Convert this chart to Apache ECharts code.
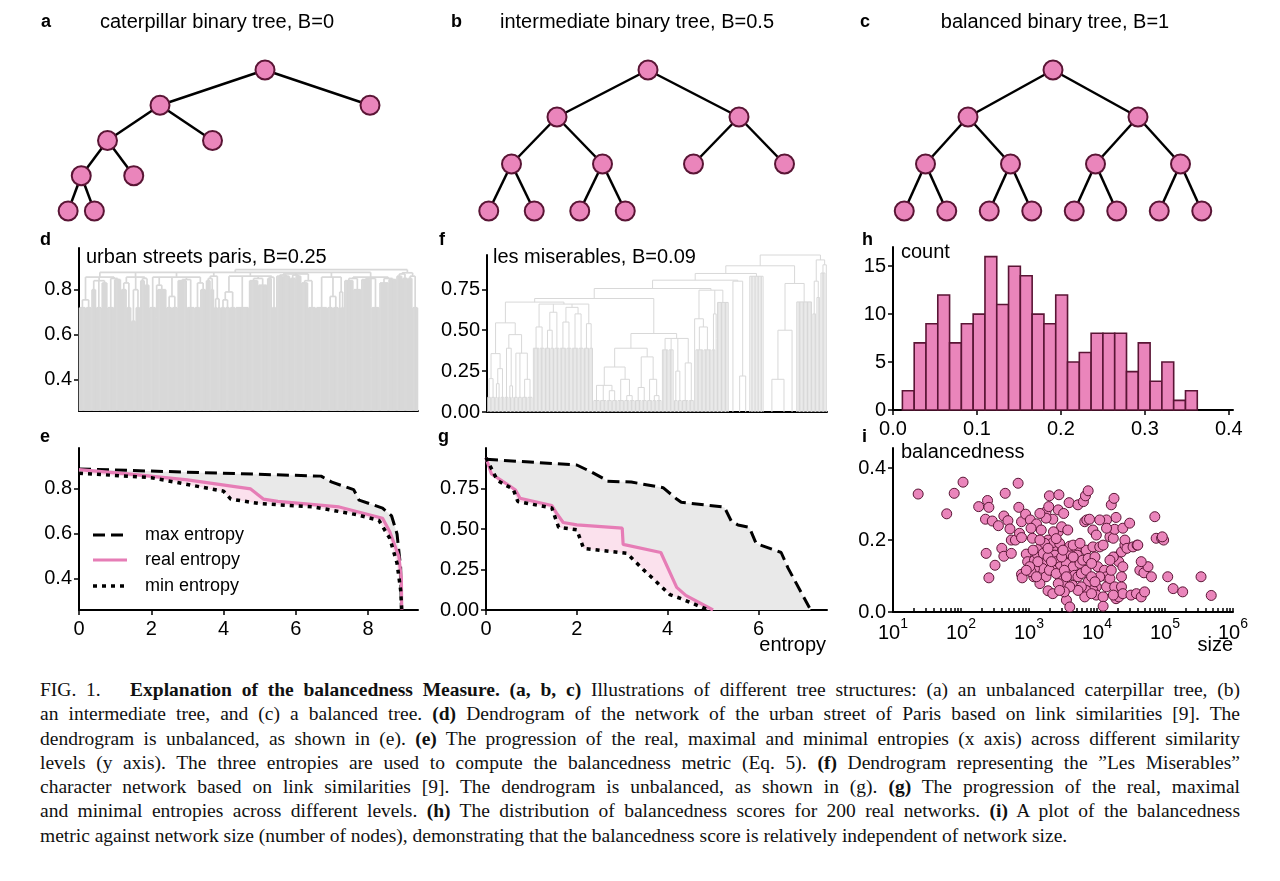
<!DOCTYPE html>
<html><head><meta charset="utf-8">
<script src="https://cdn.jsdelivr.net/npm/echarts@6/dist/echarts.min.js"></script>
<style>
html,body{margin:0;padding:0;background:#fff;}
#chart{position:absolute;left:0;top:0;width:1280px;height:670px;}
#cap{position:absolute;left:40px;top:678px;width:1200px;font-family:'Liberation Serif','Times New Roman',serif;font-size:19.5px;line-height:24.3px;color:#111;}
#cap div{text-align:justify;text-align-last:justify;white-space:nowrap;}
#cap div.last{text-align-last:left;}
</style></head><body>
<div id="chart"></div>
<div id="cap">
<div>FIG. 1.&nbsp;&nbsp; <b>Explanation of the balancedness Measure.</b> <b>(a, b, c)</b> Illustrations of different tree structures: (a) an unbalanced caterpillar tree, (b)</div>
<div>an intermediate tree, and (c) a balanced tree. <b>(d)</b> Dendrogram of the network of the urban street of Paris based on link similarities [9]. The</div>
<div>dendrogram is unbalanced, as shown in (e). <b>(e)</b> The progression of the real, maximal and minimal entropies (x axis) across different similarity</div>
<div>levels (y axis). The three entropies are used to compute the balancedness metric (Eq. 5). <b>(f)</b> Dendrogram representing the ”Les Miserables”</div>
<div>character network based on link similarities [9]. The dendrogram is unbalanced, as shown in (g). <b>(g)</b> The progression of the real, maximal</div>
<div>and minimal entropies across different levels. <b>(h)</b> The distribution of balancedness scores for 200 real networks. <b>(i)</b> A plot of the balancedness</div>
<div class="last">metric against network size (number of nodes), demonstrating that the balancedness score is relatively independent of network size.</div>
</div>
<script>
// ---------------- DATA ----------------
// binary trees (node = list of children, leaf = [])
const treeA = [[[[[],[]],[]],[]],[]];
const treeB = [[[[],[]],[[],[]]],[[],[]]];
const treeC = [[[[],[]],[[],[]]],[[[],[]],[[],[]]]];
const treeTitles = ['caterpillar binary tree, B=0', 'intermediate binary tree, B=0.5', 'balanced binary tree, B=1'];

// dendrogram d (node = [height, ...children]; block = [height, nLeaves, width?])
const parisA = [0.856,[0.755,[0.72,6],[0.72,5]],[0.84,[0.8,4],[0.72,5],[0.83,5]],[0.85,[0.72,6],[0.845,6]]];
const parisB = [0.856,[0.83,[0.8,5],[0.72,4]],[0.8,[0.66,4],[0.72,4]],[0.85,[0.84,4],[0.82,4]]];
const parisC = [0.856,[0.72,6],[0.82,[0.675,1],[0.8,8]],[0.77,[0.72,5],[0.72,5]],[0.845,[0.84,8],[0.72,7]],[0.83,[0.72,5],[0.8,5]]];
const parisD = [0.86,[0.85,[0.84,4],[0.8,3]],[0.76,[0.72,3],[0.72,3]]];
const parisE = [0.86,[0.79,[0.755,[0.72,4],[0.72,4]],[0.72,5]],[0.72,12],[0.85,[0.84,8],[0.82,8]],[0.855,[0.85,4],[0.72,4]]];
const parisF = [0.87,[0.865,[0.86,6],[0.86,6]],[0.865,[0.85,5],[0.86,5]],[0.84,[0.83,6],[0.72,7]]];
const parisG = [0.856,[0.72,10],[0.77,[0.72,5],[0.72,5]],[0.79,[0.72,2],[0.72,3]]];
const parisH = [0.856,[0.85,[0.84,8],[0.8,7]],[0.85,[0.845,8],[0.5,1],[0.72,7]],[0.85,[0.83,8],[0.845,7]]];
const parisI = [0.875,[0.87,[0.86,5],[0.85,5]],[0.86,[0.85,4],[0.72,5]]];
const parisDendrogram = [0.889,[0.877,parisA,parisB,parisC,parisD,parisE,parisF,parisG,parisH],parisI];

// dendrogram f
const fLeftA = [0.545,
  [0.357,[0.204,[0.09,3],[0.09,3]],[0.265,[0.173,[0.09,2],[0.09,2]],[0.09,3]]],
  [0.473,[0.39,[0.09,3],[0.16,[0.09,2],[0.09,2]]],[0.36,[0.09,3],[0.09,3],[0.2,[0.09,4],[0.09,4]]]]];
const fLeftB = [0.66,
  [0.52,[0.39,5],[0.39,4]],
  [0.61,[0.5,[0.39,4],[0.39,3]],[0.39,4]],
  [0.64,[0.55,[0.39,5],[0.39,4]],[0.6,[0.39,5],[0.39,4]]],
  [0.54,[0.39,4],[0.39,3]]];
const fMid = [0.48,
  [0.39,
    [0.275,
      [0.163,[0.07,5],[0.07,5],[0.13,[0.07,4],[0.07,4]]],
      [0.2,[0.07,5],[0.1,[0.07,4],[0.07,4]]]],
    [0.337,[0.15,[0.07,5],[0.07,4]],[0.2,[0.07,4],[0.1,[0.07,3],[0.07,4]]]]],
  [0.45,[0.38,5],[0.38,4],[0.25,[0.07,3],[0.07,3]],[0.3,[0.07,5],[0.07,4]]]];
const fRight1 = [0.745,[0.57,[0,1],[0.52,[0.38,6],[0.38,6]]],[0.6,[0.38,3],[0.45,1]],[0.67,9]];
const fRight2 = [0.8,[0,1,6],[0.22,[0,1,4],[0,1,5]]];
const fRight3 = [0.83,10,11];
const fRight4 = [0.786,[0.5,[0.2,[0,1,12],[0,1,6]],[0,1,6]],[0.673,12]];
const fRight5 = [0.93,[0.8,[0.6,3],[0.7,3]],[0.9,[0.85,4],[0,1]]];
const lesMiserables = [0.96,[0.894,[0.847,[0.806,[0.755,[0.694,[0.672,fLeftA,fLeftB],fMid],fRight1],fRight2],fRight3],fRight4],fRight5];

// panel e: [entropy, level]
const eMax  = [[0,.889],[6.7,.857],[7.0,.83],[7.6,.797],[7.75,.75],[8.4,.715],[8.65,.68],[8.8,.6],[8.9,.45],[8.92,.262]];
const eReal = [[0,.886],[1.5,.865],[3,.84],[4.75,.80],[5.1,.755],[5.5,.745],[7.2,.72],[8.4,.67],[8.6,.61],[8.85,.5],[8.92,.4],[8.93,.262]];
const eMin  = [[0,.87],[2,.85],[3,.82],[4,.79],[4.2,.755],[5,.735],[6.5,.72],[7.7,.685],[8.3,.66],[8.6,.58],[8.8,.47],[8.9,.35],[8.93,.262]];
// panel g
const gMax  = [[0,.93],[2,.895],[2.3,.855],[2.6,.81],[2.65,.795],[3.2,.79],[3.9,.755],[4.2,.685],[4.3,.665],[5.25,.635],[5.4,.55],[5.55,.525],[5.8,.51],[5.95,.41],[6.5,.355],[6.65,.26],[7.15,0]];
const gReal = [[0,.94],[0.12,.84],[0.5,.77],[0.65,.74],[0.75,.69],[1.45,.645],[1.55,.6],[1.7,.54],[2.0,.525],[3.0,.505],[3.02,.405],[3.85,.355],[4.2,.14],[4.4,.09],[5.0,0]];
const gMin  = [[0,.94],[0.25,.8],[0.6,.745],[0.7,.67],[1.45,.63],[1.55,.55],[1.6,.51],[2.0,.495],[2.15,.38],[3.1,.35],[3.5,.24],[4.05,.095],[4.3,.07],[4.9,0]];
const legendNames = ['max entropy', 'real entropy', 'min entropy'];

// panel h histogram
const hBinStart = 0.0112, hBinWidth = 0.01405;
const hCounts = [2,7,9,12,7,9,10,16,11,15,14,10,9,12,5,6,8,8,8,4,7,3,5,1,2];

// panel i scatter: log10(size), balancedness
const iLogSize = [1.37,1.79,1.90,2.03,2.26,2.39,2.41,2.36,2.46,2.55, 2.37,2.50,2.41,2.65,2.63,2.69,2.72,2.60,2.63,2.74,
 2.74,2.80,2.84,2.85,2.89,2.86,2.89,2.95,2.96,2.98, 2.89,2.90,3.02,3.05,3.07,3.11,3.18,3.25,3.28,3.29,
 3.30,3.35,3.43,3.44,3.51,3.08,3.12,3.16,3.21,3.23, 3.20,3.25,3.28,3.35,3.16,3.08,3.03,3.11,3.35,3.35,
 3.38,3.40,3.45,3.46,3.49,3.50,3.35,3.43,3.60,3.62, 3.55,3.60,3.65,3.60,3.70,3.71,3.64,3.67,3.75,3.79,
 3.84,3.87,3.55,3.60,3.59,3.72,3.80,3.83,3.87,3.82, 3.85,3.89,3.94,3.97,4.01,4.04,4.09,4.11,4.14,4.04,
 3.99,3.87,3.94,3.99,4.09,4.14,4.19,4.21,4.19,4.24, 4.26,4.28,4.14,4.21,4.25,4.28,4.32,4.38,4.36,4.41,
 4.24,4.19,4.14,4.26,4.09,4.28,4.32,4.36,4.36,4.38, 4.24,4.41,4.38,4.44,4.48,4.53,4.59,4.50,4.58,4.65,
 4.70,4.63,4.69,4.75,4.65,4.80,4.60,4.85,4.87,4.95, 4.98,4.96,5.04,5.12,5.26,5.53,5.68,3.23,3.28,3.30,
 3.33,3.40,3.48,3.52,3.55,3.65,3.65,3.72,3.77,3.84, 3.92,3.92,3.97,3.84,3.82,3.77,3.92,3.72,3.60,3.52,
 3.45,3.16,3.13,3.06,3.01,2.96,3.43,3.48,3.57,3.25, 3.16,3.03,3.36,3.94,3.99,4.04,3.40,3.28,3.50,3.75];
const iBal = [.328,.273,.330,.361,.293,.310,.291,.258,.253,.240, .163,.130,.095,.330,.267,.254,.231,.177,.155,.163,
 .200,.200,.358,.291,.251,.219,.207,.272,.161,.140, .105,.095,.256,.205,.098,.245,.228,.279,.200,.293,
 .323,.258,.284,.326,.274,.144,.161,.177,.163,.135, .121,.098,.059,.051,.079,.121,.112,.098,.177,.193,
 .158,.140,.191,.126,.102,.079,.116,.079,.163,.140, .135,.107,.126,.183,.177,.158,.074,.102,.135,.144,
 .172,.149,.033,.014,.304,.298,.307,.323,.337,.251, .256,.258,.181,.153,.126,.181,.186,.116,.098,.098,
 .070,.084,.060,.047,.042,.070,.093,.116,.209,.205, .230,.263,.256,.298,.316,.153,.140,.126,.167,.186,
 .153,.144,.233,.070,.016,.037,.042,.070,.098,.051, .047,.200,.233,.177,.247,.181,.186,.047,.051,.042,
 .056,.116,.109,.126,.140,.098,.186,.265,.205,.205, .200,.209,.098,.065,.056,.098,.046,.191,.153,.116,
 .140,.107,.153,.116,.098,.153,.186,.098,.107,.116, .135,.098,.084,.060,.042,.070,.051,.060,.070,.056,
 .060,.200,.140,.172,.126,.116,.223,.237,.228,.261, .274,.233,.223,.228,.214,.256,.204,.177,.172,.191];

// tick labels
const dYTicks = [0.4, 0.6, 0.8];
const eXTicks = [0, 2, 4, 6, 8];
const fYTicks = [0, 0.25, 0.5, 0.75];
const gXTicks = [0, 2, 4, 6];
const hXTicks = [0, 0.1, 0.2, 0.3, 0.4];
const hYTicks = [0, 5, 10, 15];
const iXTicks = [10, 100, 1000, 10000, 100000, 1000000];
const iYTicks = [0, 0.2, 0.4];

// ---------------- STYLE / HELPERS ----------------
const FONT = '"Liberation Sans", Arial, sans-serif';
const PINK = '#ea85bb', MAROON = '#5a1535', GRAY = '#d8d8d8', LINEPINK = '#e67db6';

function layoutTree(tree) {
  const nodes = [], links = []; let maxD = 0;
  (function walk(node, x, depth, parent) {
    const idx = nodes.length; maxD = Math.max(maxD, depth);
    nodes.push({value: [x, depth]});
    if (parent >= 0) links.push({source: parent, target: idx});
    const off = Math.pow(0.5, depth + 1);
    node.forEach((c, i) => walk(c, x + (i === 0 ? -off : off), depth + 1, idx));
  })(tree, 0, 0, -1);
  return {nodes, links, maxD};
}
function dendro(root, base) {
  const segs = []; let cursor = 0;
  function walk(node) {
    if (typeof node[1] === 'number') {
      const h = node[0], n = node[1], w = node[2] || n;
      const x0 = cursor; cursor += w;
      const xs = [];
      for (let i = 0; i < n; i++) xs.push(x0 + (i + 0.5) * w / n);
      if (h > base) xs.forEach(x => segs.push([x, base, x, h]));
      if (n > 1) segs.push([xs[0], h, xs[n - 1], h]);
      return {x: (xs[0] + xs[n - 1]) / 2, h: Math.max(h, base)};
    }
    const h = node[0];
    const kids = node.slice(1).map(walk);
    kids.forEach(k => segs.push([k.x, k.h, k.x, h]));
    segs.push([kids[0].x, h, kids[kids.length - 1].x, h]);
    return {x: (kids[0].x + kids[kids.length - 1].x) / 2, h};
  }
  walk(root);
  return {segs, total: cursor};
}
const trees = [treeA, treeB, treeC].map(layoutTree);
const dRes = dendro(parisDendrogram, 0.262);
const fRes = dendro(lesMiserables, 0);

const axLine = {show: true, onZero: false, lineStyle: {color: '#000', width: 2}};
const noSplit = {show: false};
function ticks(vals, inside, len) { return {show: true, inside: !!inside, length: len || 5, customValues: vals, lineStyle: {color: '#000', width: 1.5}}; }
function labels(vals, fmt, margin) { return {show: true, customValues: vals, formatter: fmt, color: '#000', fontSize: 20, fontFamily: FONT, margin: margin}; }
const off = {show: false};

const grids = [
  {left: 55, top: 70, width: 420, height: 141},
  {left: 466, top: 70, width: 364, height: 141},
  {left: 883, top: 70, width: 340, height: 141},
  {left: 79, top: 248, width: 339, height: 163},
  {left: 79, top: 448, width: 339, height: 162},
  {left: 487, top: 255, width: 340, height: 157},
  {left: 486, top: 448, width: 341, height: 162},
  {left: 893, top: 247, width: 340, height: 163},
  {left: 893, top: 448, width: 340, height: 164}
];

const iMinor = [];
for (let k = 1; k < 6; k++) for (let m = 1; m < 10; m++) iMinor.push(m * Math.pow(10, k));
iMinor.push(1e6);
const iLabelStyle = labels(iXTicks, v => '{b|10}{s|' + Math.round(Math.log10(v)) + '}', 5);
iLabelStyle.rich = {
  b: {fontSize: 20, fontFamily: FONT, color: '#000', lineHeight: 26, verticalAlign: 'bottom'},
  s: {fontSize: 14, fontFamily: FONT, color: '#000', lineHeight: 14, verticalAlign: 'top'}
};

const xAxis = [
  {gridIndex: 0, type: 'value', min: -1, max: 1, show: false},
  {gridIndex: 1, type: 'value', min: -1, max: 1, show: false},
  {gridIndex: 2, type: 'value', min: -1, max: 1, show: false},
  {gridIndex: 3, type: 'value', min: 0, max: dRes.total, axisLine: axLine, axisTick: off, axisLabel: off, splitLine: noSplit},
  {gridIndex: 4, type: 'value', min: 0, max: 9.38, axisLine: axLine, axisTick: ticks(eXTicks), axisLabel: labels(eXTicks, v => String(v), 9), splitLine: noSplit},
  {gridIndex: 5, type: 'value', min: 0, max: fRes.total, axisLine: axLine, axisTick: off, axisLabel: off, splitLine: noSplit},
  {gridIndex: 6, type: 'value', min: 0, max: 7.51, axisLine: axLine, axisTick: ticks(gXTicks), axisLabel: labels(gXTicks, v => String(v), 9), splitLine: noSplit},
  {gridIndex: 7, type: 'value', min: 0, max: 0.405, axisLine: axLine, axisTick: ticks(hXTicks), axisLabel: labels(hXTicks, v => v.toFixed(1), 9), splitLine: noSplit},
  {gridIndex: 8, type: 'log', logBase: 10, min: 10, max: 1e6, axisLine: axLine, axisTick: ticks(iMinor, true, 4), axisLabel: iLabelStyle, splitLine: noSplit, minorTick: off}
];
const yAxis = [
  {gridIndex: 0, type: 'value', min: 0, max: trees[0].maxD, inverse: true, show: false},
  {gridIndex: 1, type: 'value', min: 0, max: trees[1].maxD, inverse: true, show: false},
  {gridIndex: 2, type: 'value', min: 0, max: trees[2].maxD, inverse: true, show: false},
  {gridIndex: 3, type: 'value', min: 0.262, max: 0.985, axisLine: axLine, axisTick: ticks(dYTicks), axisLabel: labels(dYTicks, v => v.toFixed(1), 7), splitLine: noSplit},
  {gridIndex: 4, type: 'value', min: 0.262, max: 0.982, axisLine: axLine, axisTick: ticks(dYTicks), axisLabel: labels(dYTicks, v => v.toFixed(1), 7), splitLine: noSplit},
  {gridIndex: 5, type: 'value', min: 0, max: 0.96, axisLine: axLine, axisTick: ticks(fYTicks), axisLabel: labels(fYTicks, v => v.toFixed(2), 7), splitLine: noSplit},
  {gridIndex: 6, type: 'value', min: 0, max: 1.0, axisLine: axLine, axisTick: ticks(fYTicks), axisLabel: labels(fYTicks, v => v.toFixed(2), 7), splitLine: noSplit},
  {gridIndex: 7, type: 'value', min: 0, max: 17, axisLine: axLine, axisTick: ticks(hYTicks), axisLabel: labels(hYTicks, v => String(v), 7), splitLine: noSplit},
  {gridIndex: 8, type: 'value', min: 0, max: 0.456, axisLine: axLine, axisTick: ticks(iYTicks), axisLabel: labels(iYTicks, v => v.toFixed(1), 7), splitLine: noSplit}
];

function treeSeries(k) {
  return {type: 'graph', coordinateSystem: 'cartesian2d', xAxisIndex: k, yAxisIndex: k, silent: true,
    data: trees[k].nodes, links: trees[k].links, symbol: 'circle', symbolSize: 19,
    itemStyle: {color: PINK, borderColor: MAROON, borderWidth: 2},
    lineStyle: {color: '#000', width: 2.5, opacity: 1, curveness: 0}, label: {show: false}, z: 2};
}
function dendroSeries(k, segs, lw) {
  return {type: 'custom', xAxisIndex: k, yAxisIndex: k, silent: true, data: segs, encode: {x: [0, 2], y: [1, 3]},
    renderItem: (p, api) => {
      const a = api.coord([api.value(0), api.value(1)]), b = api.coord([api.value(2), api.value(3)]);
      return {type: 'line', shape: {x1: a[0], y1: a[1], x2: b[0], y2: b[1]}, style: {stroke: GRAY, lineWidth: lw}};
    }, z: 1};
}
function bandSeries(k, upper, lower, color, z) {
  return {type: 'custom', xAxisIndex: k, yAxisIndex: k, silent: true, data: [[upper[0][0], upper[0][1]]], z: z,
    renderItem: (p, api) => {
      const pts = upper.map(q => api.coord(q)).concat(lower.slice().reverse().map(q => api.coord(q)));
      return {type: 'polygon', shape: {points: pts}, style: {fill: color}};
    }};
}
function lineSeries(k, name, data, style) {
  return {type: 'line', name: name, xAxisIndex: k, yAxisIndex: k, data: data, showSymbol: false, symbol: 'none',
    lineStyle: style, silent: true, z: 4};
}
const dashMax = {color: '#000', width: 3, type: [12, 6]};
const solidReal = {color: LINEPINK, width: 3.2};
const dotMin = {color: '#000', width: 3.5, type: [4, 5]};

const series = [
  treeSeries(0), treeSeries(1), treeSeries(2),
  dendroSeries(3, dRes.segs, 1.7),
  dendroSeries(5, fRes.segs, 1),
  bandSeries(4, eMax, eMin, '#e9e9e9', 1),
  bandSeries(4, eReal, eMin, '#fbe1ed', 2),
  lineSeries(4, legendNames[0], eMax, dashMax),
  lineSeries(4, legendNames[1], eReal, solidReal),
  lineSeries(4, legendNames[2], eMin, dotMin),
  bandSeries(6, gMax, gMin, '#e9e9e9', 1),
  bandSeries(6, gReal, gMin, '#fbe1ed', 2),
  lineSeries(6, legendNames[0], gMax, dashMax),
  lineSeries(6, legendNames[1], gReal, solidReal),
  lineSeries(6, legendNames[2], gMin, dotMin),
  {type: 'custom', xAxisIndex: 7, yAxisIndex: 7, silent: true,
    data: hCounts.map((c, i) => [hBinStart + i * hBinWidth, hBinStart + (i + 1) * hBinWidth, c]),
    encode: {x: [0, 1], y: 2},
    renderItem: (p, api) => {
      const a = api.coord([api.value(0), 0]), b = api.coord([api.value(1), api.value(2)]);
      return {type: 'rect', shape: {x: a[0], y: b[1], width: b[0] - a[0], height: a[1] - b[1]},
        style: {fill: PINK, stroke: MAROON, lineWidth: 1.6}};
    }},
  {type: 'scatter', xAxisIndex: 8, yAxisIndex: 8, silent: true, symbolSize: 10,
    data: iLogSize.map((l, k) => [Math.pow(10, l), iBal[k]]),
    itemStyle: {color: PINK, borderColor: MAROON, borderWidth: 1, opacity: 1}}
];

function txt(s, x, y, o) {
  o = o || {};
  const font = (o.bold ? 'bold ' : '') + (o.size || 20) + 'px ' + FONT;
  return {type: 'text', x: x, y: y, silent: true, z: 10,
    style: {text: s, fill: '#000', font: font, textAlign: o.align || 'left', align: o.align || 'left',
      textVerticalAlign: 'middle', verticalAlign: 'middle'}};
}
function legLine(y, style) {
  return {type: 'line', silent: true, z: 10, shape: {x1: 93, y1: y, x2: 127, y2: y},
    style: {stroke: style.color, lineWidth: style.width, lineDash: Array.isArray(style.type) ? style.type : null}};
}
const legendRows = [535, 560, 586];
const graphic = [
  txt('a', 41, 22, {bold: true, size: 18}), txt('b', 451, 22, {bold: true, size: 18}), txt('c', 860, 22, {bold: true, size: 18}),
  txt('d', 40, 240, {bold: true, size: 18}), txt('f', 439, 240, {bold: true, size: 18}), txt('h', 862, 240, {bold: true, size: 18}),
  txt('e', 40, 437, {bold: true, size: 18}), txt('g', 438, 437, {bold: true, size: 18}), txt('i', 862, 437, {bold: true, size: 18}),
  txt(treeTitles[0], 217, 22, {align: 'center'}),
  txt(treeTitles[1], 637, 22, {align: 'center'}),
  txt(treeTitles[2], 1055, 22, {align: 'center'}),
  txt('urban streets paris, B=0.25', 86, 257),
  txt('les miserables, B=0.09', 493, 257),
  txt('count', 901, 252),
  txt('balancedness', 901, 452),
  txt('entropy', 826, 645, {align: 'right'}),
  txt('size', 1233, 645, {align: 'right'}),
  legLine(legendRows[0], dashMax), legLine(legendRows[1], solidReal), legLine(legendRows[2], dotMin),
  txt(legendNames[0], 145, legendRows[0], {size: 18}),
  txt(legendNames[1], 145, legendRows[1], {size: 18}),
  txt(legendNames[2], 145, legendRows[2], {size: 18})
];

const chart = echarts.init(document.getElementById('chart'), null, {renderer: 'canvas'});
chart.setOption({
  animation: false,
  backgroundColor: '#fff',
  textStyle: {fontFamily: FONT},
  grid: grids.map(g => Object.assign({containLabel: false, show: false}, g)),
  xAxis: xAxis, yAxis: yAxis,
  series: series,
  graphic: graphic
});
</script>
</body></html>
